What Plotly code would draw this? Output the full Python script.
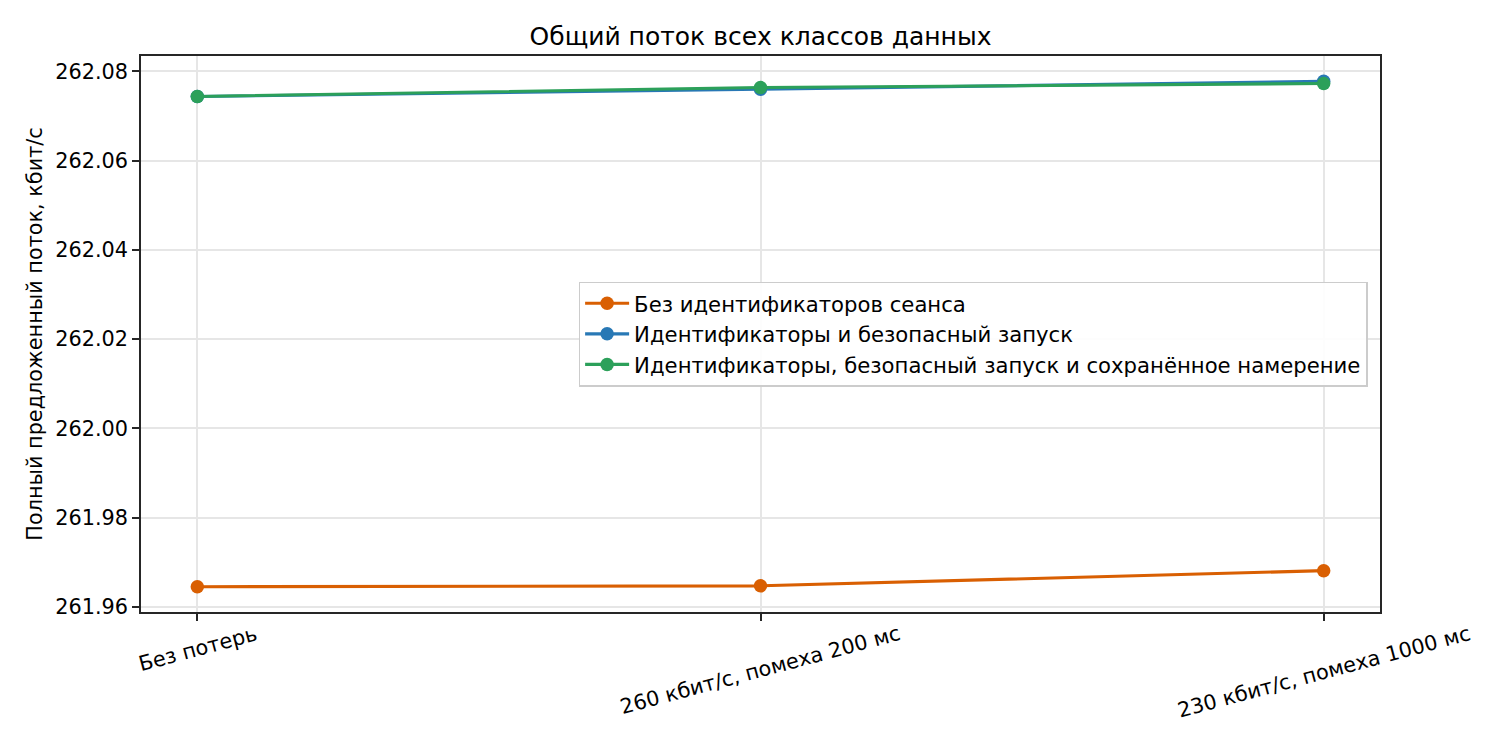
import plotly.graph_objects as go

categories = ["Без потерь", "260 кбит/с, помеха 200 мс", "230 кбит/с, помеха 1000 мс"]
no_ids = [261.9645, 261.9647, 261.9681]
ids_safe = [262.0744, 262.0760, 262.0778]
ids_safe_intent = [262.0744, 262.0764, 262.0773]
names = [
    "Без идентификаторов сеанса",
    "Идентификаторы и безопасный запуск",
    "Идентификаторы, безопасный запуск и сохранённое намерение",
]
colors = ["#d95f02", "#2878b5", "#2ca05a"]
y_ticks = [261.96, 261.98, 262.00, 262.02, 262.04, 262.06, 262.08]

font = "DejaVu Sans, Liberation Sans, sans-serif"
fs = 20.8

fig = go.Figure()
for i, (name, vals) in enumerate(zip(names, [no_ids, ids_safe, ids_safe_intent])):
    fig.add_trace(go.Scatter(
        x=categories, y=vals, mode="lines+markers", name=name,
        line=dict(color=colors[i], width=3.1),
        marker=dict(color=colors[i], size=13.5),
        legendgroup="g%d" % i,
    ))

all_y = no_ids + ids_safe + ids_safe_intent
lo, hi = min(all_y), max(all_y)
pad = (hi - lo) * 0.05

axis_common = dict(
    showline=True, mirror=True, linecolor="#262626", linewidth=1.7,
    ticks="outside", ticklen=7, tickwidth=1.7, tickcolor="#262626",
    showgrid=True, gridcolor="#e6e6e6", gridwidth=1.6,
    zeroline=False, tickfont=dict(family=font, size=fs, color="black"),
)

# x tick labels: rotated 15 deg, centred under each tick (matplotlib style)
for c in categories:
    fig.add_annotation(x=c, y=0, xref="x", yref="paper", text=c, showarrow=False,
                       textangle=-15, xanchor="center", yanchor="top", yshift=-7,
                       font=dict(family=font, size=fs, color="black"))

# page body has an 8px margin, so the figure is shrunk to fit the 1500x750 window
fig.update_layout(
    width=1492, height=742,
    paper_bgcolor="white", plot_bgcolor="white",
    margin=dict(l=133, r=120, t=48, b=138),
    font=dict(family=font, size=fs, color="black"),
    title=dict(text="Общий поток всех классов данных", x=0.5, xref="paper",
               y=1 - 28 / 742, yref="container", yanchor="middle",
               font=dict(family=font, size=25, color="black")),
    xaxis=dict(type="category", range=[-0.1, 2.1], showticklabels=False, **axis_common),
    yaxis=dict(range=[lo - pad, hi + pad], tickvals=y_ticks, tickformat=".2f",
               title=dict(text="Полный предложенный поток, кбит/с",
                          font=dict(family=font, size=fs, color="black"), standoff=7),
               **axis_common),
    legend=dict(x=0.99, xanchor="right", y=0.5, yanchor="middle",
                bgcolor="rgba(255,255,255,0.9)", bordercolor="#cccccc", borderwidth=1.5,
                font=dict(family=font, size=21.2, color="black"),
                tracegroupgap=0, itemwidth=44),
    showlegend=True,
)

fig.write_html("out.html")
